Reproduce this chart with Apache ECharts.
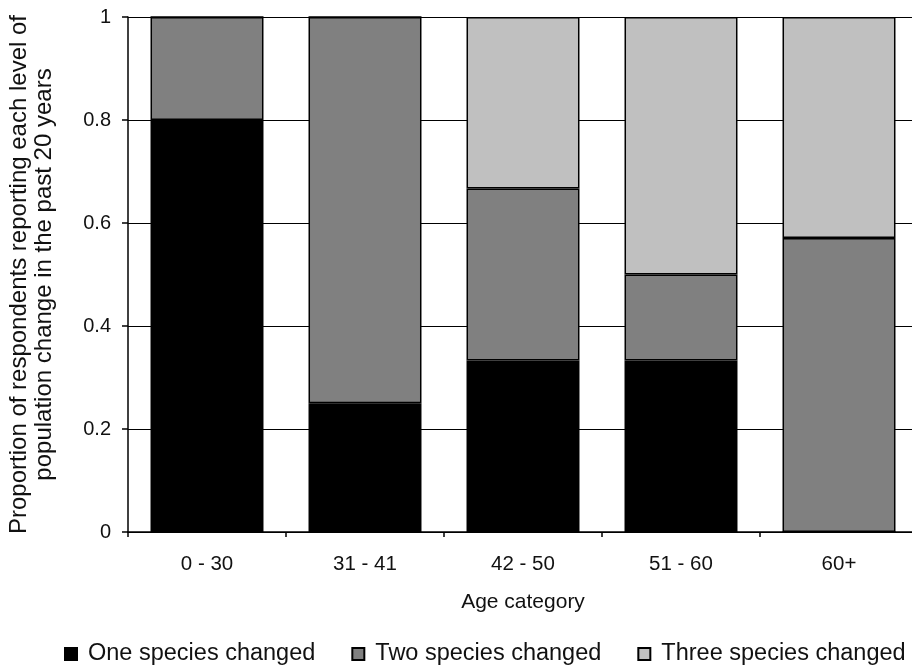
<!DOCTYPE html>
<html>
<head>
<meta charset="utf-8">
<script src="https://cdn.jsdelivr.net/npm/echarts@6/dist/echarts.min.js"></script>
<style>html,body{margin:0;padding:0;background:#fff;}#c{width:912px;height:666px;}</style>
</head>
<body>
<div id="c"></div>
<script>
var categories = ['0 - 30', '31 - 41', '42 - 50', '51 - 60', '60+'];
var oneSpecies = [0.8, 0.25, 0.333, 0.333, 0];
var twoSpecies = [0.2, 0.75, 0.334, 0.167, 0.571];
var threeSpecies = [0, 0, 0.333, 0.5, 0.429];
var yTicks = [0, 0.2, 0.4, 0.6, 0.8, 1];
var seriesNames = ['One species changed', 'Two species changed', 'Three species changed'];

var chart = echarts.init(document.getElementById('c'));
var font = 'Liberation Sans, Arial, sans-serif';
function bar(name, data, color) {
  return {
    name: name, type: 'bar', stack: 'total', data: data,
    barWidth: '71.5%',
    itemStyle: { color: color, borderColor: '#000', borderWidth: 1.5 },
    emphasis: { disabled: true }
  };
}
chart.setOption({
  animation: false,
  backgroundColor: '#fff',
  textStyle: { fontFamily: font },
  grid: { left: 128, top: 17, width: 790, height: 515, outerBoundsMode: 'none', containLabel: false },
  legend: {
    top: 642, left: 64, width: 880, padding: 0,
    itemWidth: 12, itemHeight: 12, itemGap: 36,
    icon: 'rect',
    textStyle: { fontSize: 23.5, color: '#111', fontFamily: font, padding: [0, 0, 0, 6] },
    data: seriesNames
  },
  xAxis: {
    type: 'category', data: categories,
    name: 'Age category', nameLocation: 'middle', nameGap: 60,
    nameTextStyle: { fontSize: 21, color: '#111', fontFamily: font },
    axisLine: { lineStyle: { color: '#000', width: 1.5 } },
    axisTick: { show: true, length: 5, lineStyle: { color: '#000', width: 1.5 } },
    axisLabel: { fontSize: 20.5, color: '#111', margin: 22, fontFamily: font },
    splitLine: { show: false }
  },
  yAxis: {
    type: 'value', min: yTicks[0], max: yTicks[yTicks.length - 1], interval: 0.2,
    name: 'Proportion of respondents reporting each level of\npopulation change in the past 20 years',
    nameLocation: 'middle', nameRotate: 90, nameGap: 71,
    nameTextStyle: { fontSize: 24, color: '#111', lineHeight: 25, fontFamily: font },
    axisLine: { show: true, lineStyle: { color: '#000', width: 1.5 } },
    axisTick: { show: true, length: 6, lineStyle: { color: '#000', width: 1.5 } },
    axisLabel: { fontSize: 20, color: '#111', margin: 17, fontFamily: font,
      formatter: function (v) { return String(Math.round(v * 10) / 10); } },
    splitLine: { show: true, lineStyle: { color: '#000', width: 1.2 } }
  },
  series: [
    bar(seriesNames[0], oneSpecies, '#000000'),
    bar(seriesNames[1], twoSpecies, '#808080'),
    bar(seriesNames[2], threeSpecies, '#c0c0c0')
  ]
});
</script>
</body>
</html>
